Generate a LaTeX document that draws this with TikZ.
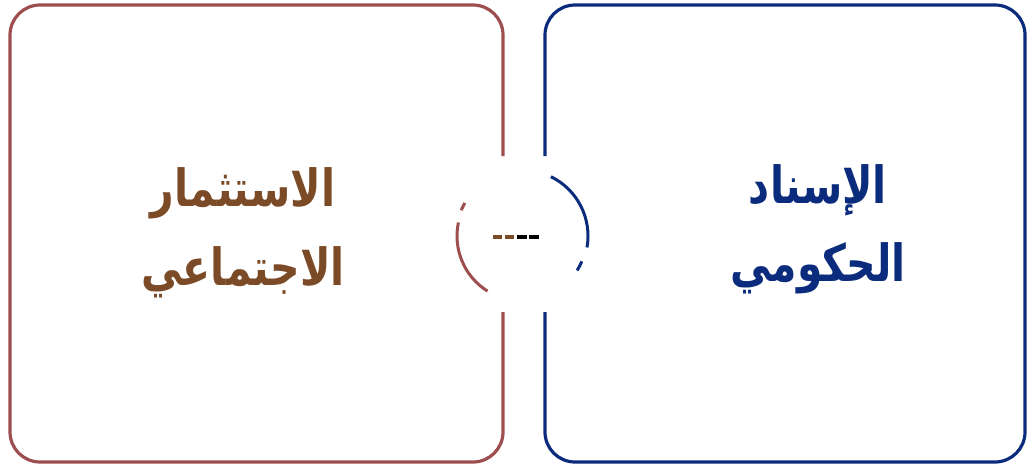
\documentclass[tikz,border=0pt]{standalone}
\usepackage{fontspec}
\newfontfamily\arabicfont[Script=Arabic]{DejaVu Sans}
\TeXXeTstate=1
\definecolor{boxred}{HTML}{9E4E4E}
\definecolor{boxblue}{HTML}{0B2B7C}
\definecolor{txtbrown}{HTML}{7B4A26}
\newcommand{\tallar}[1]{\scalebox{1}[1.25]{\beginR #1\endR}}
\begin{document}
\begin{tikzpicture}[x=1pt,y=-1pt,
  frame/.style={line width=3.2pt, rounded corners=30pt},
  arcline/.style={line width=3pt},
  label/.style={font=\arabicfont\bfseries\fontsize{41}{48}\selectfont, inner sep=0pt, anchor=center},
  dashseg/.style={line width=3.2pt}]
\useasboundingbox (0,0) rectangle (1028,464);
% boxes with gaps on the inner sides
\draw[frame, boxred] (503,156) -- (503,5) -- (10,5) -- (10,462) -- (503,462) -- (503,312);
\draw[frame, boxblue] (545,156) -- (545,5) -- (1025,5) -- (1025,462) -- (545,462) -- (545,312);
% broken circle
\coordinate (c) at (522,236);
\draw[arcline, boxred] (c) ++(192:65) arc[start angle=192, end angle=122, radius=65];
\draw[arcline, boxred] (c) ++(210:66) arc[start angle=210, end angle=203, radius=66];
\draw[arcline, boxblue] (c) ++(-64:66) arc[start angle=-64, end angle=10, radius=66];
\draw[arcline, boxblue] (c) ++(23:65) arc[start angle=23, end angle=32, radius=65];
% dashes
\coordinate (d1a) at (493,237); \coordinate (d1b) at (502,237);
\coordinate (d2a) at (505,237); \coordinate (d2b) at (514,237);
\coordinate (d3a) at (516.5,237); \coordinate (d3b) at (527,237);
\coordinate (d4a) at (529,237); \coordinate (d4b) at (539,237);
\draw[dashseg, txtbrown] (d1a) -- (d1b);
\draw[dashseg, txtbrown] (d2a) -- (d2b);
\draw[dashseg, black] (d3a) -- (d3b);
\draw[dashseg, black] (d4a) -- (d4b);
% texts
\node[label, text=txtbrown] (l1) at (243,193) {\tallar{الاستثمار}};
\node[label, text=txtbrown] (l2) at (243,272) {\tallar{الاجتماعي}};
\node[label, text=boxblue] (r1) at (818,190) {\tallar{الإسناد}};
\node[label, text=boxblue] (r2) at (818,268) {\tallar{الحكومي}};
\end{tikzpicture}
\end{document}
